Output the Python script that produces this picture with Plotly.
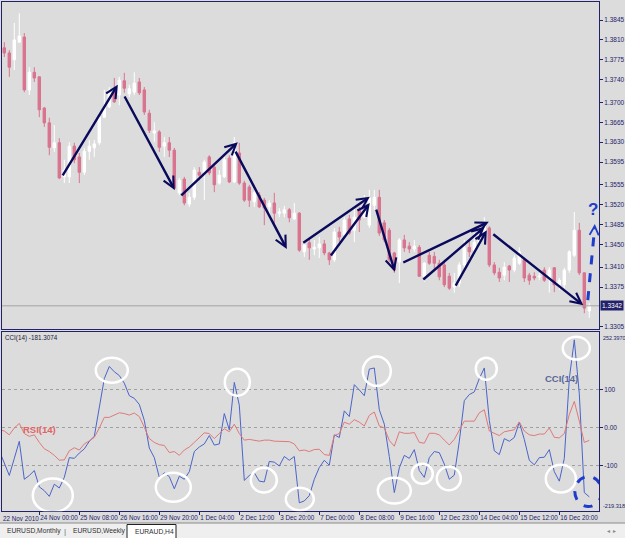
import plotly.graph_objects as go

# ---------------- data ----------------
bars = list(range(119))

open_ = [1.3803, 1.3796, 1.3787, 1.3775, 1.3806, 1.3815, 1.3722, 1.3753, 1.3745, 1.3690,
         1.3664, 1.3620, 1.3629, 1.3569, 1.3569, 1.3623, 1.3604, 1.3577, 1.3614, 1.3620,
         1.3629, 1.3674, 1.3692, 1.3718, 1.3713, 1.3738, 1.3715, 1.3718, 1.3736, 1.3722,
         1.3681, 1.3646, 1.3648, 1.3623, 1.3629, 1.3616, 1.3541, 1.3565, 1.3521, 1.3533,
         1.3577, 1.3577, 1.3604, 1.3586, 1.3558, 1.3569, 1.3602, 1.3560, 1.3611, 1.3558,
         1.3551, 1.3525, 1.3537, 1.3528, 1.3516, 1.3523, 1.3505, 1.3505, 1.3511, 1.3495,
         1.3505, 1.3437, 1.3453, 1.3442, 1.3444, 1.3451, 1.3435, 1.3423, 1.3472, 1.3467,
         1.3495, 1.3475, 1.3511, 1.3498, 1.3484, 1.3519, 1.3533, 1.3488, 1.3475, 1.3435,
         1.3419, 1.3458, 1.3447, 1.3442, 1.3445, 1.3393, 1.3431, 1.3429, 1.3417, 1.3414,
         1.3394, 1.3375, 1.3382, 1.3414, 1.3445, 1.3440, 1.3453, 1.3470, 1.3479, 1.3414,
         1.3401, 1.3396, 1.3412, 1.3405, 1.3417, 1.3423, 1.3396, 1.3394, 1.3393, 1.3405,
         1.3391, 1.3409, 1.3379, 1.3379, 1.3405, 1.3431, 1.3475, 1.3400, 1.3333]

high = [1.3810, 1.3806, 1.3792, 1.3840, 1.3857, 1.3822, 1.3762, 1.3762, 1.3746, 1.3692,
        1.3673, 1.3660, 1.3637, 1.3599, 1.3630, 1.3629, 1.3611, 1.3620, 1.3634, 1.3634,
        1.3681, 1.3722, 1.3727, 1.3743, 1.3745, 1.3752, 1.3731, 1.3753, 1.3743, 1.3727,
        1.3687, 1.3665, 1.3651, 1.3639, 1.3639, 1.3620, 1.3567, 1.3569, 1.3541, 1.3586,
        1.3586, 1.3599, 1.3607, 1.3593, 1.3581, 1.3604, 1.3607, 1.3639, 1.3629, 1.3562,
        1.3555, 1.3544, 1.3542, 1.3532, 1.3528, 1.3541, 1.3514, 1.3518, 1.3514, 1.3523,
        1.3507, 1.3454, 1.3461, 1.3458, 1.3463, 1.3458, 1.3437, 1.3479, 1.3481, 1.3498,
        1.3502, 1.3516, 1.3516, 1.3537, 1.3546, 1.3546, 1.3546, 1.3493, 1.3479, 1.3437,
        1.3461, 1.3467, 1.3454, 1.3458, 1.3449, 1.3419, 1.3437, 1.3437, 1.3423, 1.3423,
        1.3400, 1.3400, 1.3419, 1.3458, 1.3458, 1.3470, 1.3481, 1.3498, 1.3482, 1.3419,
        1.3409, 1.3419, 1.3414, 1.3431, 1.3445, 1.3426, 1.3400, 1.3401, 1.3400, 1.3410,
        1.3410, 1.3410, 1.3391, 1.3409, 1.3440, 1.3507, 1.3488, 1.3401, 1.3347]

low = [1.3785, 1.3780, 1.3745, 1.3757, 1.3805, 1.3718, 1.3713, 1.3736, 1.3674, 1.3657,
       1.3607, 1.3613, 1.3565, 1.3558, 1.3558, 1.3593, 1.3558, 1.3572, 1.3599, 1.3604,
       1.3625, 1.3673, 1.3690, 1.3699, 1.3695, 1.3717, 1.3709, 1.3713, 1.3713, 1.3678,
       1.3646, 1.3630, 1.3613, 1.3604, 1.3604, 1.3546, 1.3537, 1.3519, 1.3516, 1.3528,
       1.3563, 1.3528, 1.3572, 1.3542, 1.3555, 1.3567, 1.3558, 1.3558, 1.3555, 1.3525,
       1.3516, 1.3516, 1.3514, 1.3484, 1.3502, 1.3484, 1.3498, 1.3498, 1.3489, 1.3493,
       1.3437, 1.3428, 1.3423, 1.3431, 1.3426, 1.3431, 1.3414, 1.3419, 1.3454, 1.3463,
       1.3467, 1.3454, 1.3472, 1.3497, 1.3479, 1.3511, 1.3465, 1.3454, 1.3419, 1.3400,
       1.3382, 1.3437, 1.3435, 1.3437, 1.3393, 1.3384, 1.3414, 1.3405, 1.3387, 1.3375,
       1.3370, 1.3365, 1.3375, 1.3409, 1.3428, 1.3431, 1.3449, 1.3467, 1.3410, 1.3396,
       1.3384, 1.3387, 1.3384, 1.3401, 1.3414, 1.3384, 1.3379, 1.3387, 1.3387, 1.3384,
       1.3365, 1.3366, 1.3370, 1.3373, 1.3400, 1.3428, 1.3396, 1.3329, 1.3321]

close = [1.3792, 1.3787, 1.3762, 1.3810, 1.3817, 1.3722, 1.3753, 1.3743, 1.3687, 1.3664,
         1.3621, 1.3629, 1.3567, 1.3581, 1.3623, 1.3599, 1.3577, 1.3614, 1.3623, 1.3627,
         1.3674, 1.3692, 1.3722, 1.3701, 1.3739, 1.3725, 1.3724, 1.3734, 1.3717, 1.3683,
         1.3651, 1.3650, 1.3621, 1.3629, 1.3616, 1.3549, 1.3563, 1.3523, 1.3533, 1.3581,
         1.3572, 1.3595, 1.3576, 1.3555, 1.3572, 1.3599, 1.3560, 1.3629, 1.3558, 1.3528,
         1.3528, 1.3541, 1.3516, 1.3514, 1.3523, 1.3505, 1.3507, 1.3511, 1.3497, 1.3505,
         1.3440, 1.3449, 1.3444, 1.3445, 1.3451, 1.3435, 1.3423, 1.3472, 1.3463, 1.3493,
         1.3470, 1.3498, 1.3493, 1.3523, 1.3532, 1.3533, 1.3470, 1.3458, 1.3423, 1.3405,
         1.3458, 1.3444, 1.3442, 1.3447, 1.3394, 1.3417, 1.3417, 1.3417, 1.3393, 1.3379,
         1.3373, 1.3382, 1.3414, 1.3444, 1.3437, 1.3454, 1.3467, 1.3488, 1.3414, 1.3400,
         1.3391, 1.3410, 1.3405, 1.3426, 1.3437, 1.3391, 1.3387, 1.3391, 1.3394, 1.3387,
         1.3405, 1.3379, 1.3387, 1.3405, 1.3437, 1.3475, 1.3400, 1.3338, 1.3342]

cci = [-60, -95, -125, -80, -35, -135, -125, -112, -155, -165,
       -180, -148, -158, -130, -78, -80, -66, -55, -35, -22,
       50, 130, 162, 148, 138, 118, 85, 78, 62, 20,
       -53, -78, -130, -118, -128, -160, -127, -135, -115, -62,
       -50, -42, -20, -45, -42, 38, -5, 120, 60, -138,
       -125, -118, -140, -142, -88, -90, -100, -75, -85, -75,
       -197, -192, -178, -135, -104, -85, -98, -18, -25, 45,
       30, 114, 100, 85, 155, 158, 48, 10, -75, -170,
       -105, -72, -80, -57, -112, -130, -78, -62, -65, -95,
       -135, -124, -35, 72, 88, 95, 130, 158, 20, -60,
       -70, -28, -35, -25, 15, -30, -85, -97, -78, -77,
       -57, -115, -140, -80, 130, 232, 90, -170, -181.3074]

rsi = [49.4, 48.8, 47.3, 50.0, 51.8, 47.8, 46.7, 47.3, 44.3, 41.8,
       40.7, 39.2, 37.3, 37.4, 41.0, 42.2, 41.3, 43.7, 44.9, 46.3,
       50.0, 54.2, 54.2, 55.0, 56.0, 55.7, 55.1, 55.9, 54.5, 50.3,
       45.8, 44.3, 43.4, 43.1, 40.3, 40.7, 39.2, 41.3, 42.5, 44.3,
       46.3, 48.1, 47.8, 45.8, 47.8, 49.7, 48.5, 51.5, 47.8, 45.2,
       45.5, 45.1, 44.8, 45.2, 45.2, 44.8, 44.8, 44.8, 44.6, 43.7,
       41.0, 41.3, 40.7, 41.5, 41.6, 39.5, 39.2, 47.0, 47.8, 52.3,
       51.5, 53.3, 52.3, 50.8, 55.0, 56.3, 50.8, 50.0, 45.1, 42.8,
       48.5, 47.9, 47.9, 48.2, 44.3, 44.0, 47.9, 47.9, 47.3, 45.2,
       43.3, 45.5, 49.3, 52.7, 52.7, 52.7, 56.0, 57.2, 48.8, 47.8,
       47.0, 48.5, 48.8, 49.3, 52.4, 48.8, 47.3, 47.0, 47.6, 47.6,
       50.0, 46.3, 46.1, 47.8, 55.3, 60.5, 52.7, 44.3, 45.1]

date_ticks = [8, 16, 24, 32, 40, 48, 56, 64, 72, 80, 88, 96, 104, 112]
date_labels = ["24 Nov 00:00", "25 Nov 08:00", "26 Nov 16:00", "29 Nov 20:00",
               "1 Dec 04:00", "2 Dec 12:00", "3 Dec 20:00", "7 Dec 00:00",
               "8 Dec 08:00", "9 Dec 16:00", "12 Dec 23:00", "14 Dec 04:00",
               "15 Dec 12:00", "16 Dec 20:00"]
first_date_label = "22 Nov 2010"

price_ticks = [1.3845, 1.3810, 1.3775, 1.3740, 1.3700, 1.3665, 1.3630, 1.3595,
               1.3555, 1.3520, 1.3485, 1.3450, 1.3410, 1.3375, 1.3305]
last_price = 1.3342
price_range = [1.33012, 1.38767]

cci_ticks = [100, 0, -100]
cci_ticktext = ["100", "0.00", "-100"]
cci_range = [-219.318, 252.397]
rsi_range = [17.1023, 87.8596]

# hand-drawn trend arrows: (tail bar, tail price, head bar, head price)
trend_arrows = [
    (12.5, 1.3569, 23.7, 1.3731),
    (24.9, 1.3713, 35.1, 1.3546),
    (36.1, 1.3534, 47.7, 1.3630),
    (47.1, 1.3616, 57.5, 1.3442),
    (60.5, 1.3451, 74.1, 1.3534),
    (66.1, 1.3428, 74.1, 1.3523),
    (75.3, 1.3514, 79.1, 1.3402),
    (80.5, 1.3417, 97.9, 1.3490),
    (84.5, 1.3386, 97.1, 1.3481),
    (91.1, 1.3375, 97.5, 1.3475),
    (98.5, 1.3470, 116.8, 1.3343),
]
# dashed "next move" arrow and question mark
next_move = (117.7, 1.3352, 119.1, 1.3486)
question_pos = (118.7, 1.3511)

# highlighted CCI extremes: (bar0, bar1, cci0, cci1)
cci_circles = [
    (6.7, 14.7, -222, -133), (19.3, 25.7, 119, 185), (31.3, 38.3, -194, -118),
    (45.1, 50.1, 85, 156), (50.3, 55.5, -170, -105), (57.3, 62.9, -217, -157),
    (72.7, 78.3, 111, 188), (75.7, 82.3, -199, -131), (82.5, 86.7, -147, -94),
    (87.5, 92.3, -164, -102), (95.3, 99.5, 127, 185), (109.3, 115.3, -170, -97),
    (112.7, 118.1, 180, 240),
]
cci_dashed_circle = (115.1, 120.5, -207, -128)

tabs = ["EURUSD,Monthly", "EURUSD,Weekly", "EURAUD,H4"]

# ---------------- styling ----------------
W, H = 625, 538
BG = "#dcdcdc"
NAVY = "#22226a"
ARROW = "#0a0a5c"
BLUE = "#1f3ccc"
BEAR = "#d9738f"
FONT = "Liberation Sans"


def px(x):
    return x / W


def py(y):
    return 1 - y / H


x_dom = [px(2), px(599)]
x_rng = [0.54, 119.94]

fig = go.Figure()
fig.add_trace(go.Candlestick(
    x=bars, open=open_, high=high, low=low, close=close,
    increasing=dict(line=dict(color="white", width=1), fillcolor="white"),
    decreasing=dict(line=dict(color=BEAR, width=1), fillcolor=BEAR),
    whiskerwidth=0, xaxis="x", yaxis="y", hoverinfo="skip", showlegend=False,
))
fig.add_trace(go.Scatter(
    x=bars, y=rsi, mode="lines", line=dict(color="#e07878", width=1),
    xaxis="x2", yaxis="y3", hoverinfo="skip", showlegend=False,
))
fig.add_trace(go.Scatter(
    x=bars, y=cci, mode="lines", line=dict(color="#4a64c8", width=1),
    xaxis="x2", yaxis="y2", hoverinfo="skip", showlegend=False,
))

shapes = []
annotations = []

# bid line
shapes.append(dict(type="line", xref="paper", x0=x_dom[0], x1=x_dom[1], yref="y",
                   y0=last_price, y1=last_price, line=dict(color="#a4a4a4", width=1)))

# trend arrows
for (x0, y0, x1, y1) in trend_arrows:
    annotations.append(dict(x=x1, y=y1, ax=x0, ay=y0, xref="x", yref="y",
                            axref="x", ayref="y", text="", showarrow=True,
                            arrowhead=5, arrowsize=0.9, arrowwidth=2.4,
                            arrowcolor=ARROW, standoff=0))

# dashed next-move arrow
nx0, ny0, nx1, ny1 = next_move
shapes.append(dict(type="line", xref="x", yref="y", x0=nx0, y0=ny0,
                   x1=nx1 - 0.05, y1=ny1 - 0.0008,
                   line=dict(color=BLUE, width=3, dash="dash")))
annotations.append(dict(x=nx1, y=ny1, ax=nx1 - 0.08, ay=ny1 - 0.0012, xref="x", yref="y",
                        axref="x", ayref="y", text="", showarrow=True, arrowhead=5,
                        arrowsize=0.9, arrowwidth=2, arrowcolor=BLUE, standoff=0))
annotations.append(dict(x=question_pos[0], y=question_pos[1], xref="x", yref="y",
                        xanchor="center", yanchor="middle",
                        text="<b>?</b>", showarrow=False,
                        font=dict(family=FONT, size=17, color=BLUE)))

# circles on CCI
for (x0, x1, y0, y1) in cci_circles:
    shapes.append(dict(type="circle", xref="x2", yref="y2", x0=x0, x1=x1, y0=y0, y1=y1,
                       line=dict(color="white", width=2.5)))
dx0, dx1, dy0, dy1 = cci_dashed_circle
shapes.append(dict(type="circle", xref="x2", yref="y2", x0=dx0, x1=dx1, y0=dy0, y1=dy1,
                   line=dict(color=BLUE, width=3, dash="dash")))

# last price box
annotations.append(dict(x=px(600), y=last_price, xref="paper", yref="y", xanchor="left",
                        yanchor="middle",
                        text="1.3342", showarrow=False, bgcolor=NAVY, borderpad=1,
                        font=dict(family=FONT, size=6.5, color="white")))

# CCI scale extremes
annotations.append(dict(x=px(601), y=py(333), xref="paper", yref="paper", xanchor="left",
                        yanchor="top", text="252.3970", showarrow=False,
                        font=dict(family=FONT, size=5.4, color=NAVY)))
annotations.append(dict(x=px(601), y=py(511), xref="paper", yref="paper", xanchor="left",
                        yanchor="bottom", text="-219.318", showarrow=False,
                        font=dict(family=FONT, size=5.6, color=NAVY)))

# indicator titles
annotations.append(dict(x=px(3), y=py(338), xref="paper", yref="paper", xanchor="left",
                        yanchor="middle",
                        text="CCI(14) -181.3074", showarrow=False,
                        font=dict(family=FONT, size=6.3, color="#1a1a3a")))
annotations.append(dict(x=8.0, y=-4.5, xref="x2", yref="y2", xanchor="center",
                        yanchor="middle",
                        text="<b>RSI(14)</b>", showarrow=False,
                        font=dict(family=FONT, size=9.5, color="#e06464")))
annotations.append(dict(x=112.5, y=130, xref="x2", yref="y2", xanchor="center",
                        yanchor="middle",
                        text="<b>CCI(14)</b>", showarrow=False,
                        font=dict(family=FONT, size=9.5, color="#5a6898")))

# first date label
annotations.append(dict(x=px(1), y=py(518), xref="paper", yref="paper", xanchor="left",
                        yanchor="middle",
                        text=first_date_label, showarrow=False,
                        font=dict(family=FONT, size=6.3, color=NAVY)))

# tab bar
shapes.append(dict(type="rect", xref="paper", yref="paper", x0=0, x1=1, y0=0, y1=py(523),
                   fillcolor="#efefef", line=dict(width=0), layer="below"))
shapes.append(dict(type="line", xref="paper", yref="paper", x0=0, x1=1, y0=py(523), y1=py(523),
                   line=dict(color="#8a8a8a", width=1)))
shapes.append(dict(type="rect", xref="paper", yref="paper", x0=px(127), x1=px(176),
                   y0=py(539), y1=py(524.5), fillcolor="white",
                   line=dict(color="#202020", width=1)))
tab_x = [5, 71, 133]
for t, xx in zip(tabs, tab_x):
    annotations.append(dict(x=px(xx), y=py(531), xref="paper", yref="paper", xanchor="left",
                            yanchor="middle",
                            text=t, showarrow=False,
                            font=dict(family=FONT, size=6.7, color="#303030")))
annotations.append(dict(x=px(64.5), y=py(531), xref="paper", yref="paper",
                        xanchor="center", yanchor="middle",
                        text="|", showarrow=False, font=dict(family=FONT, size=8, color="#707070")))
annotations.append(dict(x=px(611), y=py(531), xref="paper", yref="paper",
                        xanchor="center", yanchor="middle",
                        text="\u25c2  \u25b8", showarrow=False,
                        font=dict(family=FONT, size=5.5, color="#888888")))

axis_common = dict(showline=True, linecolor=NAVY, linewidth=1, mirror=True,
                   zeroline=False, fixedrange=True)

fig.update_layout(
    width=W, height=H,
    margin=dict(l=0, r=0, t=0, b=0, pad=0, autoexpand=False),
    paper_bgcolor=BG, plot_bgcolor=BG,
    showlegend=False, hovermode=False, dragmode=False,
    xaxis=dict(domain=x_dom, range=x_rng, anchor="y", showticklabels=False, ticks="",
               showgrid=False, rangeslider=dict(visible=False), **axis_common),
    yaxis=dict(domain=[py(329), py(2)], range=price_range, anchor="x", side="right",
               tickvals=price_ticks, ticktext=[f"{v:.4f}" for v in price_ticks],
               ticks="outside", ticklen=3, tickcolor=NAVY,
               tickfont=dict(family=FONT, size=6.5, color=NAVY),
               showgrid=False, **axis_common),
    xaxis2=dict(domain=x_dom, range=x_rng, anchor="y2", tickvals=date_ticks,
                ticktext=date_labels, ticks="outside", ticklen=3, tickcolor=NAVY,
                ticklabelposition="outside right", tickangle=0,
                tickfont=dict(family=FONT, size=6.3, color=NAVY),
                showgrid=False, **axis_common),
    yaxis2=dict(domain=[py(511.3), py(332.1)], range=cci_range, anchor="x2", side="right",
                tickvals=cci_ticks, ticktext=cci_ticktext, ticks="outside", ticklen=3,
                tickcolor=NAVY, tickfont=dict(family=FONT, size=6.5, color=NAVY),
                showgrid=True, gridcolor="#a0a0a0", griddash="dot", gridwidth=1,
                **axis_common),
    yaxis3=dict(overlaying="y2", range=rsi_range, anchor="x2", visible=False,
                fixedrange=True),
    shapes=shapes,
    annotations=annotations,
)

fig.write_html("out.html")
